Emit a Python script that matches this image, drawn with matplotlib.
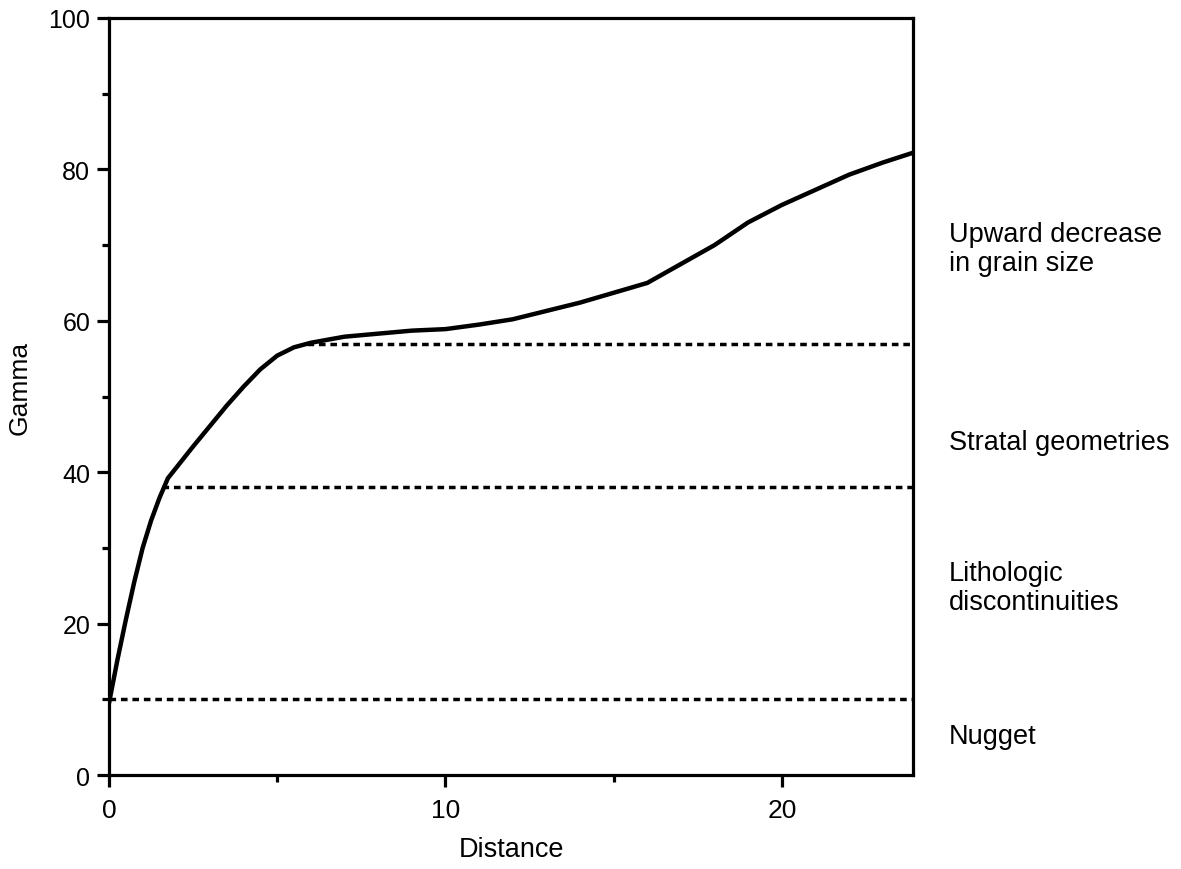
import matplotlib
matplotlib.use("Agg")
import matplotlib.pyplot as plt

plt.rcParams['font.family'] = ['Liberation Sans', 'DejaVu Sans']

# Data
distance = [0, 0.25, 0.5, 0.75, 1.0, 1.25, 1.5, 1.75, 2.0, 2.5, 3.0, 3.5, 4.0, 4.5, 5.0, 5.5,
            6.0, 6.5, 7.0, 8.0, 9.0, 10, 11, 12, 13, 14, 15, 16, 17, 18, 19, 20, 21, 22, 23, 23.9]
gamma = [9.5, 15.2, 20.5, 25.5, 30.0, 33.6, 36.6, 39.2, 40.6, 43.4, 46.1, 48.8, 51.3, 53.6,
         55.4, 56.5, 57.1, 57.5, 57.9, 58.3, 58.7, 58.9, 59.5, 60.2, 61.3, 62.4, 63.7, 65.0,
         67.5, 70.0, 73.0, 75.3, 77.3, 79.3, 80.9, 82.2]

sill_levels = [10, 38, 57]
sill_starts = [0, 1.58, 5.9]

zone_labels = ["Upward decrease\nin grain size", "Stratal geometries",
               "Lithologic\ndiscontinuities", "Nugget"]
zone_label_y = [69.5, 44.0, 24.8, 5.2]

x_major = [0, 10, 20]
x_minor = [5, 15]
y_major = [0, 20, 40, 60, 80, 100]
y_minor = [10, 30, 50, 70, 90]

fig = plt.figure(figsize=(11.81, 8.70), dpi=100)
ax = fig.add_axes([0.0923, 0.108, 0.6808, 0.8702])

xmax = 23.9
ax.plot(distance, gamma, color='black', lw=3.2, solid_capstyle='round',
        solid_joinstyle='round', zorder=3)
for lvl, st in zip(sill_levels, sill_starts):
    ax.plot([st, xmax], [lvl, lvl], color='black', lw=2.5, linestyle=(0, (1.9, 1.4)), zorder=2)

ax.set_xlim(0, xmax)
ax.set_ylim(0, 100)

ax.set_xticks(x_major)
ax.set_xticks(x_minor, minor=True)
ax.set_yticks(y_major)
ax.set_yticks(y_minor, minor=True)

ax.tick_params(axis='both', which='major', direction='out', length=8.5, width=2.3,
               top=False, right=False)
ax.tick_params(axis='both', which='minor', direction='out', length=5, width=2.3,
               top=False, right=False)
ax.tick_params(axis='x', which='major', pad=8, labelsize=19)
ax.tick_params(axis='y', which='major', pad=5, labelsize=18)

for sp in ax.spines.values():
    sp.set_linewidth(2.3)

ax.set_xlabel("Distance", fontsize=19.5, labelpad=10)
ax.set_ylabel("Gamma", fontsize=19)
ax.yaxis.set_label_coords(-0.096, 0.512)

for lab, yy in zip(zone_labels, zone_label_y):
    ax.text(24.97, yy, lab, fontsize=19.5, ha='left', va='center', clip_on=False,
            linespacing=1.15)

fig.savefig("out.png", dpi=100)
